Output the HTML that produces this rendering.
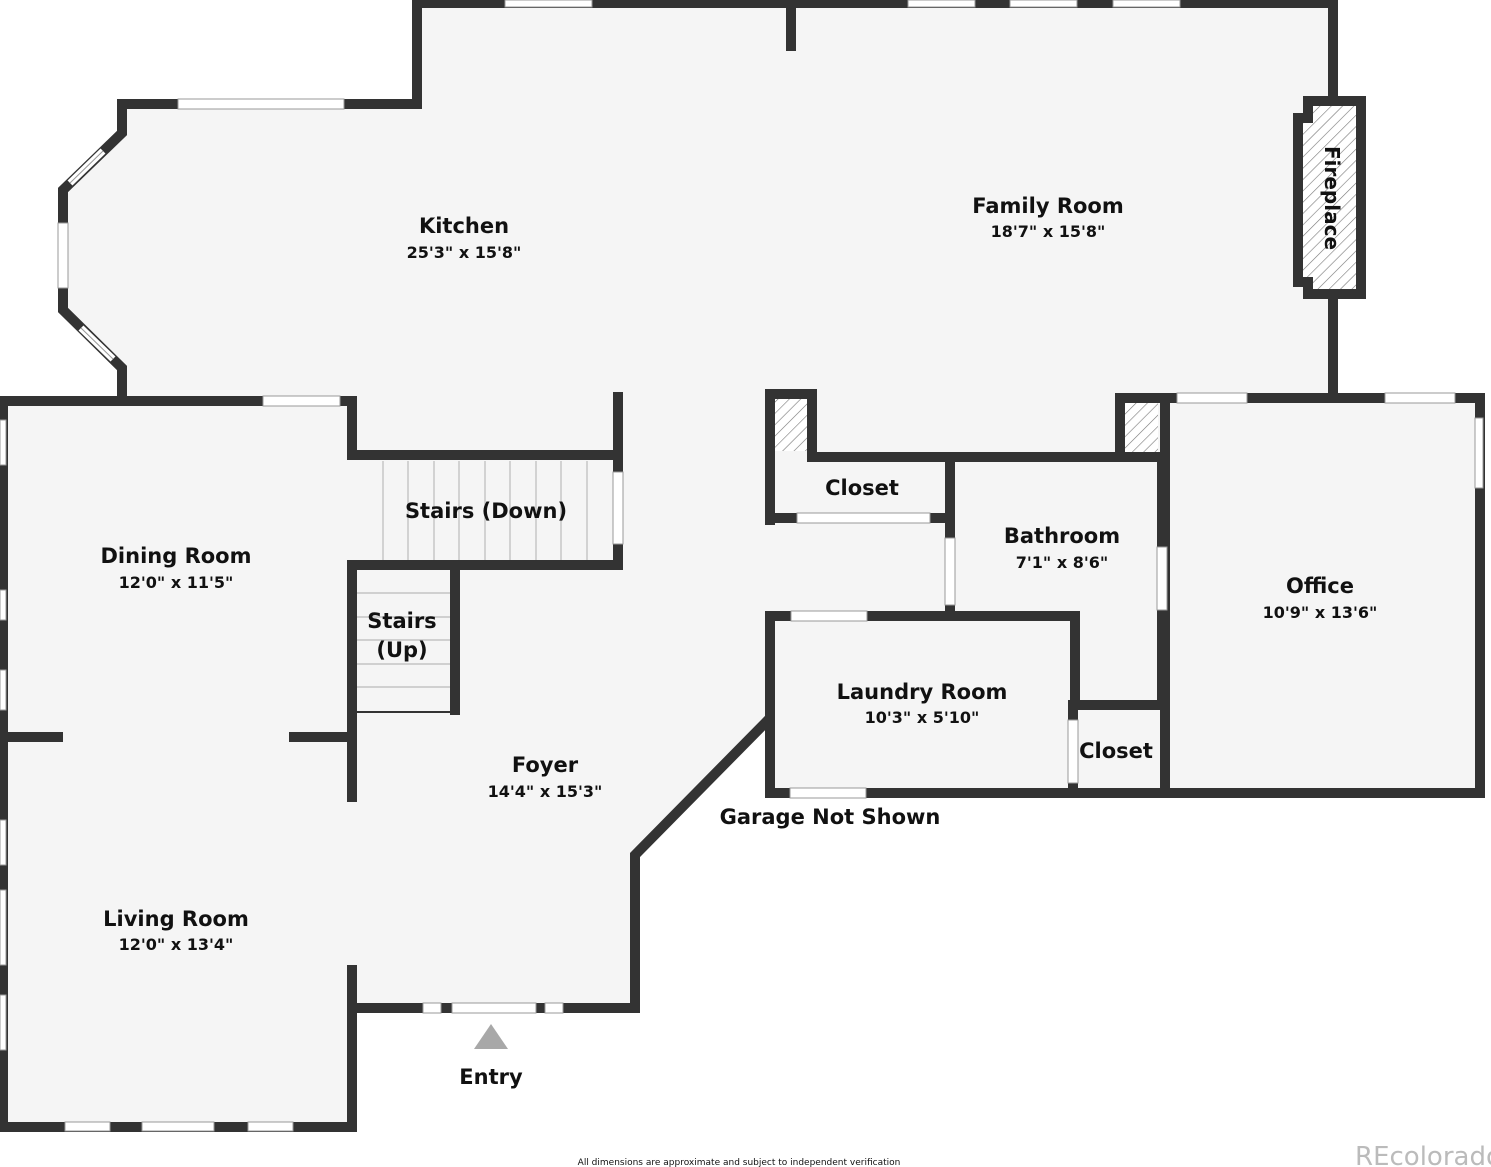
<!DOCTYPE html>
<html><head><meta charset="utf-8"><style>
html,body{margin:0;padding:0;background:#fff;}
svg{display:block;}
text{font-family:"DejaVu Sans","Liberation Sans",sans-serif;font-weight:bold;fill:#111;}
</style></head><body>
<svg width="1491" height="1167" viewBox="0 0 1491 1167" xmlns="http://www.w3.org/2000/svg">
<defs>
<pattern id="h" width="8" height="8" patternUnits="userSpaceOnUse" patternTransform="rotate(45)">
<rect width="8" height="8" fill="#fff"/><line x1="0" y1="0" x2="0" y2="8" stroke="#777" stroke-width="1.2"/>
</pattern>
</defs>
<polygon fill="#f5f5f5" points="417,3 1333,3 1333,398 1480,398 1480,793 770,793 770,718 635,855 635,1008 352,1008 352,1127 3,1127 3,401 122,401 122,368 63,310 63,190 122,133 122,104 417,104"/>
<g stroke="#333" stroke-width="10" fill="none" stroke-linecap="square" stroke-linejoin="miter">
<polyline points="1333,100 1333,3 417,3 417,104 122,104 122,133 63,190 63,310 122,368 122,401"/>
<line x1="791" y1="3" x2="791" y2="46"/>
<line x1="1333" y1="295" x2="1333" y2="393"/>
<polyline points="352,452 352,401 3,401 3,1127 352,1127 352,970"/>
<line x1="352" y1="570" x2="352" y2="797"/>
<line x1="3" y1="737" x2="58" y2="737"/>
<line x1="294" y1="737" x2="352" y2="737"/>
<line x1="352" y1="455" x2="618" y2="455"/>
<line x1="618" y1="397" x2="618" y2="565"/>
<line x1="352" y1="565" x2="618" y2="565"/>
<line x1="455" y1="565" x2="455" y2="710"/>
<polyline points="352,1008 635,1008 635,855 768,720"/>
<polyline points="770,520 770,394 812,394 812,457 1162,457"/>
<line x1="770" y1="518" x2="948" y2="518"/>
<line x1="950" y1="457" x2="950" y2="608"/>
<line x1="1162" y1="457" x2="1162" y2="705"/>
<polyline points="770,793 770,616 1075,616 1075,705 1162,705"/>
<line x1="1073" y1="705" x2="1073" y2="790"/>
<line x1="770" y1="793" x2="1480" y2="793"/>
<polyline points="1120,455 1120,398 1480,398 1480,793"/>
<line x1="1165" y1="398" x2="1165" y2="793"/>
</g>
<rect x="775" y="399" width="32" height="52" fill="url(#h)"/>
<rect x="1125" y="403" width="33" height="49" fill="url(#h)"/>
<polygon points="1308,101 1361,101 1361,294 1308,294 1308,282 1298,282 1298,118 1308,118" fill="url(#h)" stroke="#333" stroke-width="10"/>
<text transform="translate(1325,198) rotate(90)" text-anchor="middle" font-size="20">Fireplace</text>
<g stroke="#bbb" stroke-width="1.2">
<line x1="383" y1="461" x2="383" y2="560"/><line x1="408" y1="461" x2="408" y2="560"/><line x1="434" y1="461" x2="434" y2="560"/><line x1="459" y1="461" x2="459" y2="560"/><line x1="485" y1="461" x2="485" y2="560"/><line x1="510" y1="461" x2="510" y2="560"/><line x1="536" y1="461" x2="536" y2="560"/><line x1="561" y1="461" x2="561" y2="560"/><line x1="587" y1="461" x2="587" y2="560"/>
<line x1="357" y1="593" x2="450" y2="593"/><line x1="357" y1="617" x2="450" y2="617"/><line x1="357" y1="640" x2="450" y2="640"/><line x1="357" y1="664" x2="450" y2="664"/><line x1="357" y1="687" x2="450" y2="687"/>
</g>
<line x1="357" y1="712" x2="455" y2="712" stroke="#333" stroke-width="2"/>
<g fill="#fff" stroke="#999" stroke-width="1">
<rect x="505" y="0" width="87" height="7"/><rect x="908" y="0" width="67" height="7"/><rect x="1010" y="0" width="67" height="7"/><rect x="1113" y="0" width="67" height="7"/>
<rect x="178" y="99" width="166" height="10"/>
<rect x="58" y="223" width="10" height="65"/>
<rect x="263" y="396" width="77" height="10"/>
<rect x="613" y="472" width="10" height="72"/>
<rect x="797" y="513" width="133" height="10"/>
<rect x="945" y="538" width="10" height="67"/>
<rect x="1157" y="547" width="10" height="63"/>
<rect x="791" y="611" width="76" height="10"/>
<rect x="1068" y="720" width="10" height="63"/>
<rect x="790" y="788" width="76" height="10"/>
<rect x="1177" y="393" width="70" height="10"/>
<rect x="1385" y="393" width="70" height="10"/>
<rect x="1475" y="418" width="8" height="70"/>
<rect x="452" y="1003" width="84" height="10"/>
<rect x="423" y="1003" width="18" height="10"/><rect x="545" y="1003" width="18" height="10"/>
<rect x="0" y="420" width="6" height="45"/><rect x="0" y="590" width="6" height="30"/><rect x="0" y="670" width="6" height="40"/><rect x="0" y="820" width="6" height="45"/><rect x="0" y="890" width="6" height="75"/><rect x="0" y="995" width="6" height="55"/>
<rect x="65" y="1122" width="45" height="9"/><rect x="142" y="1122" width="72" height="9"/><rect x="248" y="1122" width="45" height="9"/>
</g>
<!-- bay windows on diagonals -->
<line x1="103" y1="151" x2="70" y2="183" stroke="#fff" stroke-width="7"/>
<line x1="103" y1="151" x2="70" y2="183" stroke="#999" stroke-width="1"/>
<line x1="81" y1="328" x2="113" y2="359" stroke="#fff" stroke-width="7"/>
<line x1="81" y1="328" x2="113" y2="359" stroke="#999" stroke-width="1"/>
<polygon points="491,1024 474,1049 508,1049" fill="#a8a8a8"/>
<g text-anchor="middle">
<text x="464" y="233" font-size="21">Kitchen</text><text x="464" y="258" font-size="16">25'3" x 15'8"</text>
<text x="1048" y="213" font-size="21">Family Room</text><text x="1048" y="237" font-size="16">18'7" x 15'8"</text>
<text x="486" y="518" font-size="21">Stairs (Down)</text>
<text x="402" y="628" font-size="21">Stairs</text><text x="402" y="657" font-size="21">(Up)</text>
<text x="176" y="563" font-size="21">Dining Room</text><text x="176" y="588" font-size="16">12'0" x 11'5"</text>
<text x="176" y="926" font-size="21">Living Room</text><text x="176" y="950" font-size="16">12'0" x 13'4"</text>
<text x="545" y="772" font-size="21">Foyer</text><text x="545" y="797" font-size="16">14'4" x 15'3"</text>
<text x="862" y="495" font-size="21">Closet</text>
<text x="1062" y="543" font-size="21">Bathroom</text><text x="1062" y="568" font-size="16">7'1" x 8'6"</text>
<text x="1320" y="593" font-size="21">Office</text><text x="1320" y="618" font-size="16">10'9" x 13'6"</text>
<text x="922" y="699" font-size="21">Laundry Room</text><text x="922" y="723" font-size="16">10'3" x 5'10"</text>
<text x="1116" y="758" font-size="21">Closet</text>
<text x="830" y="824" font-size="21">Garage Not Shown</text>
<text x="491" y="1084" font-size="21">Entry</text>
<text x="739" y="1165" font-size="9" style="font-weight:normal">All dimensions are approximate and subject to independent verification</text>
</g>
<text x="1355" y="1165" font-size="26" style="font-weight:normal;fill:#bbb">REcolorado</text>
</svg>
</body></html>
